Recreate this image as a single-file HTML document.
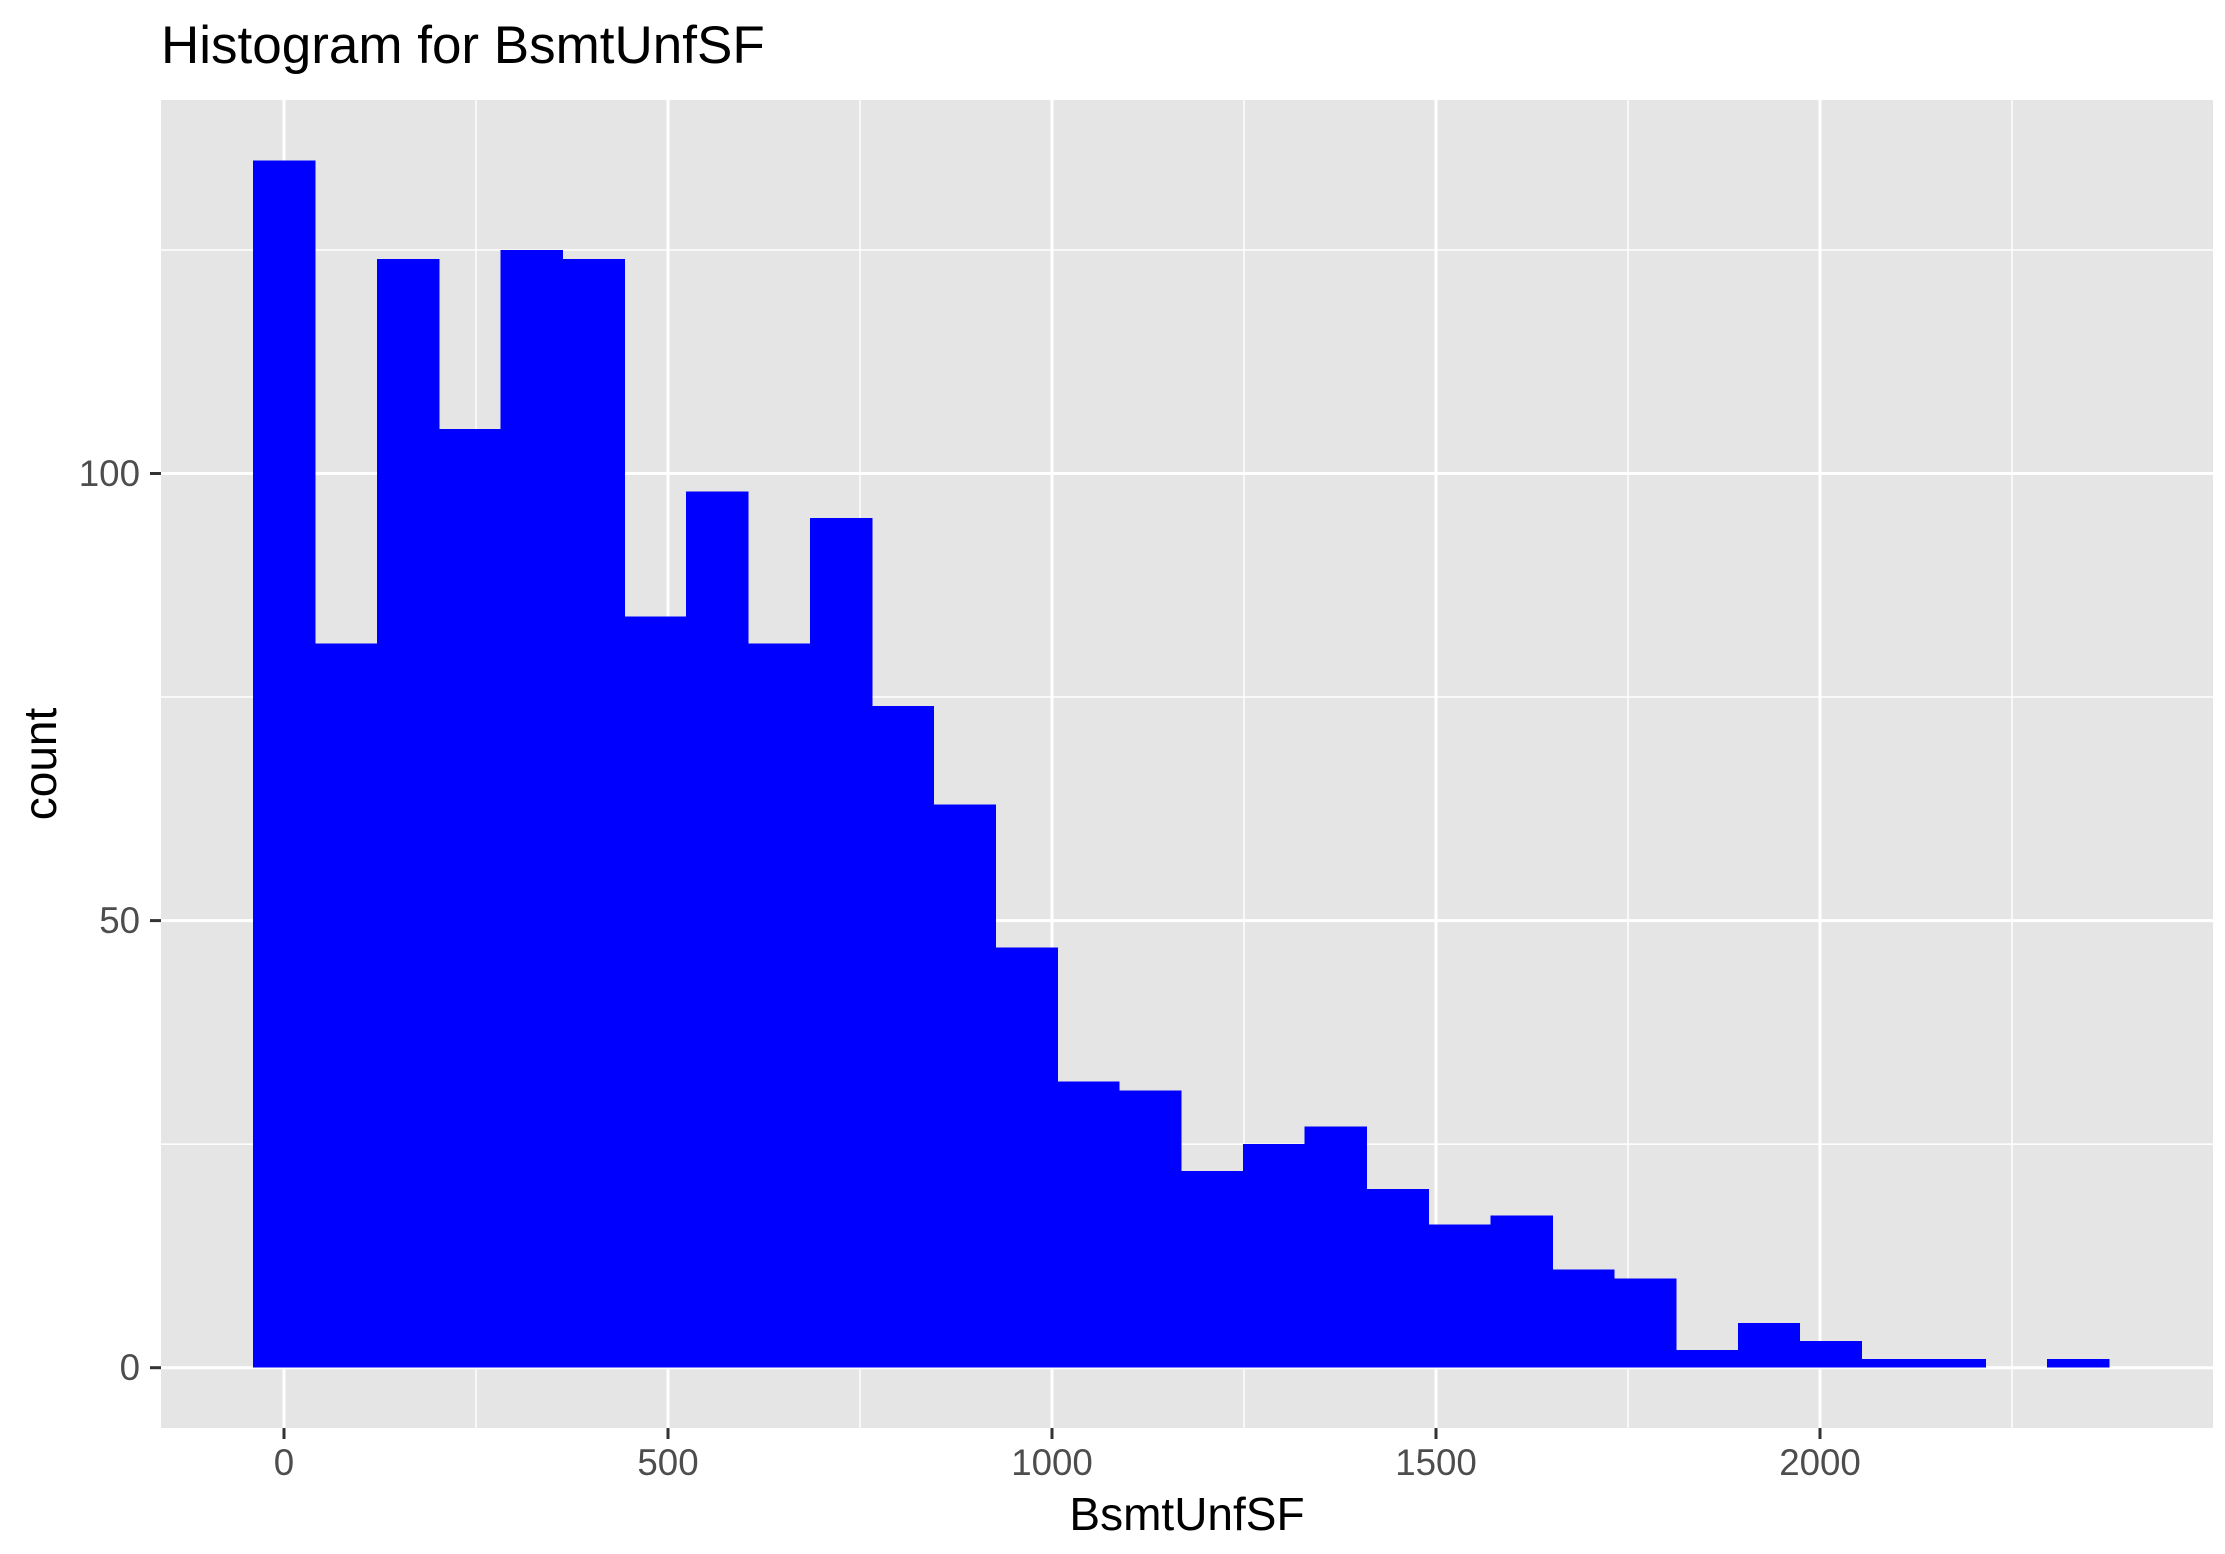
<!DOCTYPE html>
<html><head><meta charset="utf-8"><style>
html,body{margin:0;padding:0;background:#fff;}
svg{display:block;font-family:"Liberation Sans",Arial,sans-serif;}
</style></head><body>
<svg id="chart" width="2225" height="1554" viewBox="0 0 2225 1554" xmlns="http://www.w3.org/2000/svg">
<rect width="2225" height="1554" fill="#fff"/>
<text x="161" y="63" font-size="53" fill="#000">Histogram for BsmtUnfSF</text>
<rect x="161" y="100" width="2052" height="1328" fill="#e5e5e5"/>
<g id="grid"></g>
<g id="bars" shape-rendering="crispEdges"></g>
<g id="axes"></g>
<text x="1187" y="1530" font-size="46" text-anchor="middle" fill="#000">BsmtUnfSF</text>
<text transform="translate(56,764) rotate(-90)" font-size="46" text-anchor="middle" fill="#000">count</text>
</svg>
<script>
const counts = [135,81,124,105,125,124,84,98,81,95,74,63,47,32,31,22,25,27,20,16,17,11,10,2,5,3,1,1,0,1];
const binWidth = 80.55;
const firstCenter = 0;
const xMajorTicks = [0,500,1000,1500,2000];
const xMinorTicks = [250,750,1250,1750,2250];
const yMajorTicks = [0,50,100];
const yMinorTicks = [25,75,125];

const NS = 'http://www.w3.org/2000/svg';
const panel = {left:161, top:100, right:2213, bottom:1428};
function xScale(v){ return 284 + v*0.768; }
function yScale(c){ return 1367.7 - c*8.942; }
function mk(tag, attrs, parent){
  const e = document.createElementNS(NS, tag);
  for (const k in attrs) e.setAttribute(k, attrs[k]);
  parent.appendChild(e);
  return e;
}
const grid = document.getElementById('grid');
const bars = document.getElementById('bars');
const axes = document.getElementById('axes');

yMinorTicks.forEach(t=>{
  const l = mk('line',{x1:panel.left,x2:panel.right,y1:yScale(t),y2:yScale(t),stroke:'#fff','stroke-width':1.5},grid);
  
  
});
xMinorTicks.forEach(t=>{
  const l = mk('line',{x1:xScale(t),x2:xScale(t),y1:panel.top,y2:panel.bottom,stroke:'#fff','stroke-width':1.5},grid);
  
  
});
yMajorTicks.forEach(t=>{
  const l = mk('line',{x1:panel.left,x2:panel.right,y1:yScale(t),y2:yScale(t),stroke:'#fff','stroke-width':3},grid);
  
  
  const tk = mk('line',{x1:150,x2:161,y1:yScale(t),y2:yScale(t),stroke:'#333','stroke-width':3},axes);
  
  
  const tx = mk('text',{x:140,y:yScale(t)+12.5,'font-size':36.7,'text-anchor':'end',fill:'#4d4d4d'},axes);
  tx.textContent = t;
  
  
});
xMajorTicks.forEach(t=>{
  const l = mk('line',{x1:xScale(t),x2:xScale(t),y1:panel.top,y2:panel.bottom,stroke:'#fff','stroke-width':3},grid);
  
  
  const tk = mk('line',{x1:xScale(t),x2:xScale(t),y1:panel.bottom,y2:panel.bottom+11,stroke:'#333','stroke-width':3},axes);
  
  
  const tx = mk('text',{x:xScale(t),y:1475,'font-size':36.7,'text-anchor':'middle',fill:'#4d4d4d'},axes);
  tx.textContent = t;
  
  
});
counts.forEach((c,i)=>{
  if (c <= 0) return;
  const x0 = xScale(firstCenter + (i-0.5)*binWidth);
  const x1 = xScale(firstCenter + (i+0.5)*binWidth);
  const r = mk('rect',{x:x0,y:yScale(c),width:x1-x0+0.6,height:yScale(0)-yScale(c),fill:'#0000ff'},bars);
  
  
});
</script>
</body></html>
